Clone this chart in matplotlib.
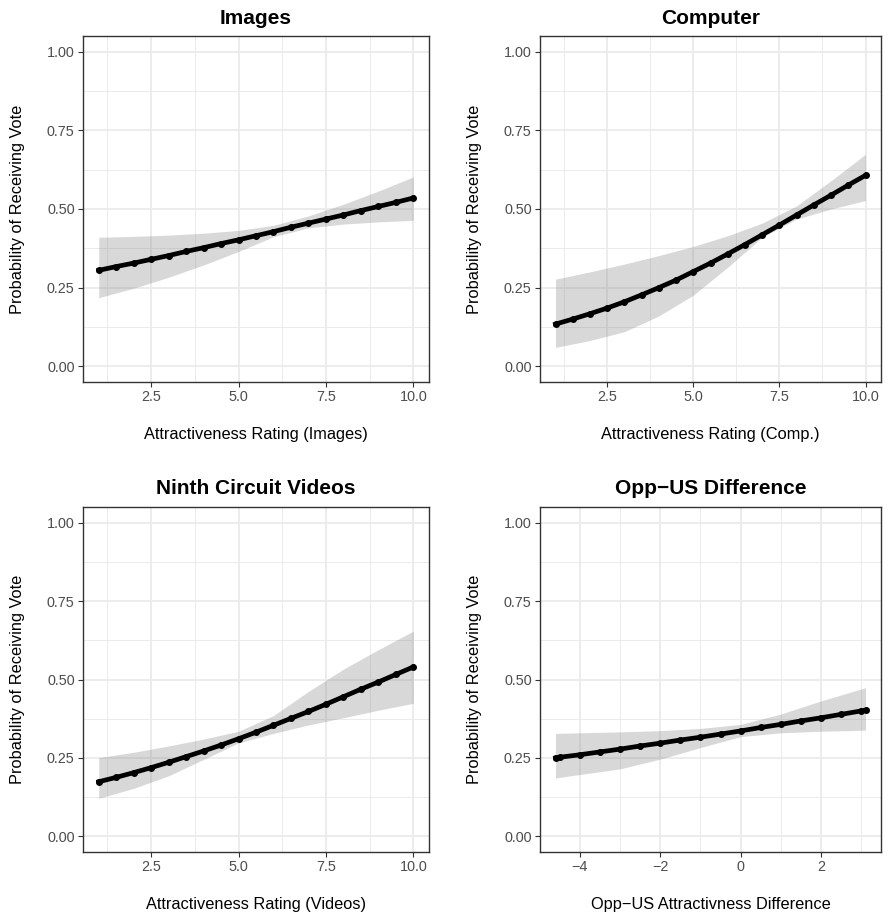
import matplotlib
matplotlib.use("Agg")
import matplotlib.pyplot as plt
from matplotlib.ticker import FixedLocator

plt.rcParams["font.family"] = ["Liberation Sans", "DejaVu Sans"]

# --- data ---
# line (predicted probability) sampled every 0.5 rating unit
rating_x = [1, 1.5, 2, 2.5, 3, 3.5, 4, 4.5, 5, 5.5, 6, 6.5, 7, 7.5, 8, 8.5, 9, 9.5, 10]
images_fit = [0.305, 0.317, 0.328, 0.340, 0.352, 0.365, 0.377, 0.390, 0.402, 0.415,
              0.428, 0.442, 0.455, 0.468, 0.481, 0.495, 0.508, 0.521, 0.535]
computer_fit = [0.134, 0.150, 0.167, 0.185, 0.205, 0.227, 0.250, 0.274, 0.301, 0.328,
                0.357, 0.387, 0.418, 0.449, 0.481, 0.513, 0.544, 0.576, 0.607]
videos_fit = [0.174, 0.188, 0.203, 0.219, 0.236, 0.254, 0.272, 0.291, 0.311, 0.332,
              0.354, 0.376, 0.398, 0.421, 0.445, 0.469, 0.492, 0.516, 0.540]

# confidence band at integer ratings
band_x = [1, 2, 3, 4, 5, 6, 7, 8, 9, 10]
images_lo = [0.218, 0.248, 0.283, 0.322, 0.365, 0.412, 0.440, 0.452, 0.459, 0.464]
images_hi = [0.410, 0.413, 0.417, 0.423, 0.432, 0.448, 0.478, 0.515, 0.557, 0.602]
computer_lo = [0.060, 0.082, 0.110, 0.160, 0.226, 0.315, 0.410, 0.468, 0.500, 0.527]
computer_hi = [0.277, 0.300, 0.325, 0.352, 0.381, 0.415, 0.455, 0.510, 0.590, 0.674]
videos_lo = [0.121, 0.153, 0.193, 0.245, 0.298, 0.328, 0.355, 0.378, 0.402, 0.424]
videos_hi = [0.251, 0.268, 0.288, 0.310, 0.335, 0.385, 0.462, 0.533, 0.595, 0.654]

# opp - us difference panel
diff_x = [-4.6, -4.5, -4, -3.5, -3, -2.5, -2, -1.5, -1, -0.5, 0, 0.5, 1, 1.5, 2, 2.5, 3, 3.1]
diff_fit = [0.250, 0.252, 0.260, 0.269, 0.278, 0.288, 0.297, 0.307, 0.316, 0.326,
            0.336, 0.347, 0.357, 0.368, 0.378, 0.389, 0.400, 0.402]
diff_band_x = [-4.6, -4, -3, -2, -1, 0, 1, 2, 3, 3.1]
diff_lo = [0.186, 0.197, 0.215, 0.246, 0.283, 0.318, 0.330, 0.335, 0.338, 0.339]
diff_hi = [0.328, 0.330, 0.333, 0.337, 0.344, 0.357, 0.390, 0.432, 0.470, 0.474]

panels = [
    ("Images", "Attractiveness Rating (Images)", rating_x, images_fit, band_x, images_lo, images_hi),
    ("Computer", "Attractiveness Rating (Comp.)", rating_x, computer_fit, band_x, computer_lo, computer_hi),
    ("Ninth Circuit Videos", "Attractiveness Rating (Videos)", rating_x, videos_fit, band_x, videos_lo, videos_hi),
    ("Opp\u2212US Difference", "Opp\u2212US Attractivness Difference", diff_x, diff_fit, diff_band_x, diff_lo, diff_hi),
]

W, H = 888, 914
boxes = [(83, 36, 429, 382), (540, 36, 881, 382), (83, 507, 429, 852), (540, 507, 881, 852)]

fig = plt.figure(figsize=(W / 100, H / 100), dpi=100)

for (title, xlabel, fx, fy, bx, lo, hi), (l, t, r, b) in zip(panels, boxes):
    ax = fig.add_axes([l / W, 1 - b / H, (r - l) / W, (b - t) / H])
    ax.fill_between(bx, lo, hi, color="#808080", alpha=0.3, lw=0, zorder=2)
    ax.plot(fx, fy, color="black", lw=3.4, marker="o", ms=4.0, zorder=3)

    xmin, xmax = min(fx), max(fx)
    pad = (xmax - xmin) * 0.05
    ax.set_xlim(xmin - pad, xmax + pad)
    ax.set_ylim(-0.05, 1.05)

    ax.yaxis.set_major_locator(FixedLocator([0, 0.25, 0.5, 0.75, 1.0]))
    ax.yaxis.set_minor_locator(FixedLocator([0.125, 0.375, 0.625, 0.875]))
    ax.set_yticklabels(["0.00", "0.25", "0.50", "0.75", "1.00"])
    if title.startswith("Opp"):
        ax.xaxis.set_major_locator(FixedLocator([-4, -2, 0, 2]))
        ax.xaxis.set_minor_locator(FixedLocator([-3, -1, 1, 3]))
        ax.set_xticklabels(["\u22124", "\u22122", "0", "2"])
    else:
        ax.xaxis.set_major_locator(FixedLocator([2.5, 5.0, 7.5, 10.0]))
        ax.xaxis.set_minor_locator(FixedLocator([1.25, 3.75, 6.25, 8.75]))
        ax.set_xticklabels(["2.5", "5.0", "7.5", "10.0"])

    ax.grid(which="major", color="#EBEBEB", lw=1.3, zorder=0)
    ax.grid(which="minor", color="#EBEBEB", lw=0.7, zorder=0)
    ax.set_axisbelow(True)
    for s in ax.spines.values():
        s.set_color("#333333")
        s.set_linewidth(1.0)
    ax.tick_params(which="major", length=3.5, width=0.8, color="#333333",
                   labelsize=10.4, labelcolor="#4D4D4D", pad=2.5)
    ax.tick_params(which="minor", length=0)

    ax.set_title(title, fontsize=15, fontweight="bold", pad=9)
    ax.set_xlabel(xlabel, fontsize=11.8, labelpad=16)
    ax.set_ylabel("Probability of Receiving Vote", fontsize=11.8, labelpad=16)

fig.savefig("out.png", dpi=100)
